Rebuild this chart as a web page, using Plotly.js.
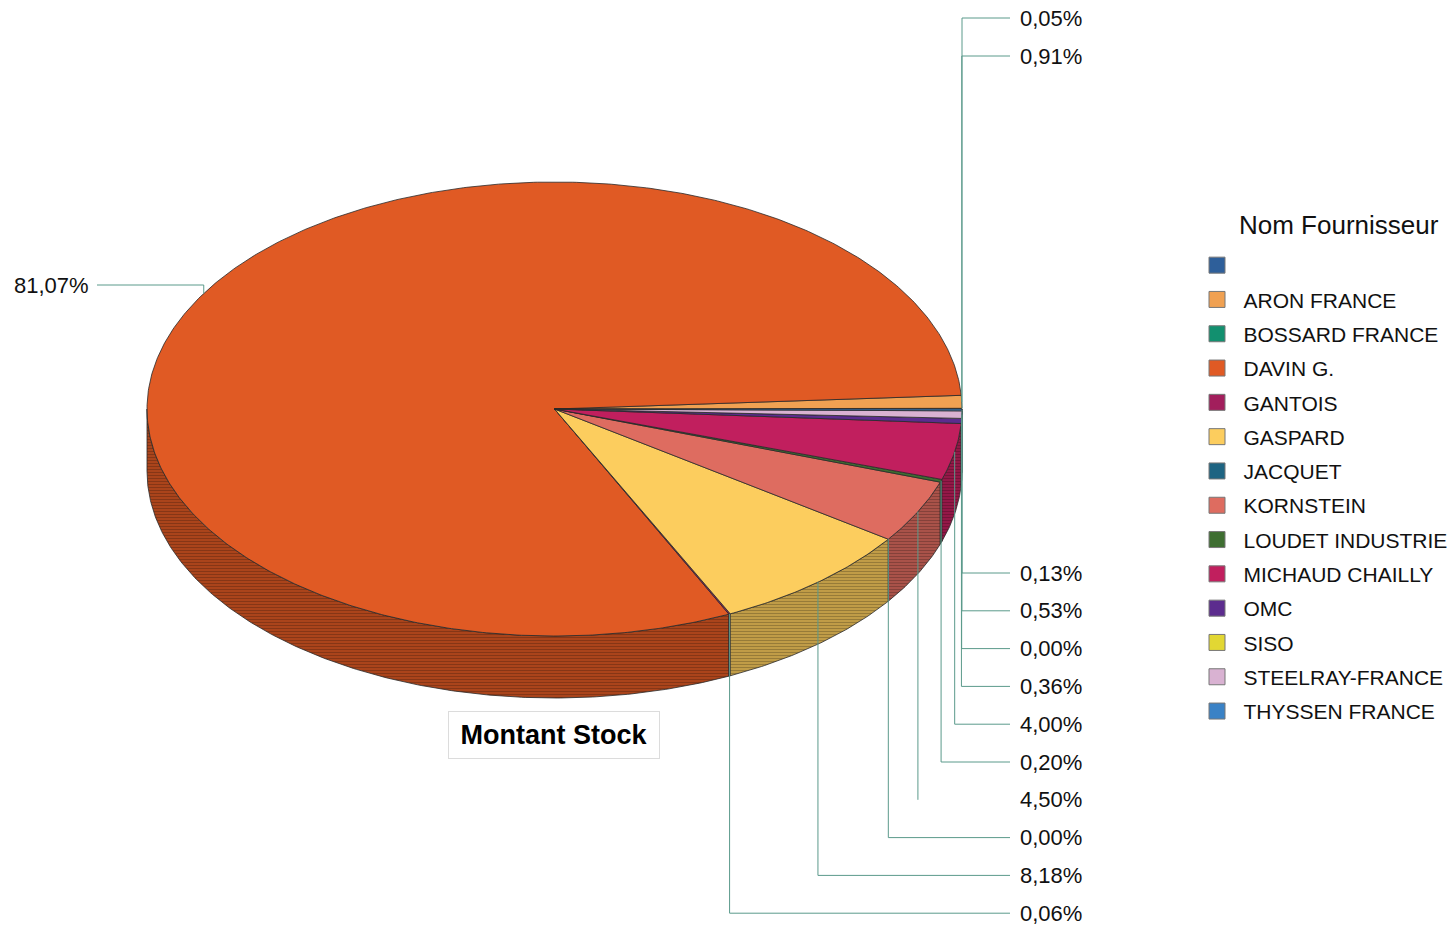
<!DOCTYPE html>
<html>
<head>
<meta charset="utf-8">
<script src="https://cdn.plot.ly/plotly-3.0.1.min.js"></script>
<style>html,body{margin:0;padding:0;background:#fff;}#chart{width:1455px;height:926px;}</style>
</head>
<body>
<div id="chart"></div>
<script>
// ---- data ----
const categories = ['', 'ARON FRANCE', 'BOSSARD FRANCE', 'DAVIN G.', 'GANTOIS', 'GASPARD', 'JACQUET', 'KORNSTEIN', 'LOUDET INDUSTRIE', 'MICHAUD CHAILLY', 'OMC', 'SISO', 'STEELRAY-FRANCE', 'THYSSEN FRANCE'];
const shares = [0.05, 0.91, null, 81.07, 0.06, 8.18, 0.00, 4.50, 0.20, 4.00, 0.36, 0.00, 0.53, 0.13];
const colors = ['#2E5F9A', '#F0A152', '#12906F', '#E05A24', '#A21E5C', '#FCCD5E', '#1E6482', '#DE6C60', '#3E6E31', '#C11F5E', '#5C2C8E', '#E2D733', '#D9B2D2', '#3A82C6'];
const chartTitle = 'Montant Stock';
const legendTitle = 'Nom Fournisseur';

// ---- geometry (layout) ----
const W = 1455, H = 926;
const cx = 554.5, cy = 409, rx = 407.5, ry = 227, depth = 62;
const deg = Math.PI / 180;
const lineColor = '#5b9a8b';
const edge = '#2a2a2a';
const FONT = 'Liberation Sans, Arial, sans-serif';

function rim(t, dz) { return [cx + rx * Math.cos(t * deg), cy + ry * Math.sin(t * deg) + (dz || 0)]; }
function shade(hex, f) {
  const n = parseInt(hex.slice(1), 16);
  const r = Math.round(((n >> 16) & 255) * f), g = Math.round(((n >> 8) & 255) * f), b = Math.round((n & 255) * f);
  return 'rgb(' + r + ',' + g + ',' + b + ')';
}
function fmt(v) { return v.toFixed(2).replace('.', ',') + '%'; }

const total = shares.reduce((s, v) => s + (v || 0), 0);
// slices go counter-clockwise on screen starting at 3 o'clock
const slices = [];
let acc = 0;
categories.forEach((c, i) => {
  const v = shares[i];
  if (v === null) return;
  const b = 360 - acc / total * 360;
  acc += v;
  const a = 360 - acc / total * 360;
  slices.push({ name: c, v: v, a: a, b: b, color: colors[i] });
});

const traces = [];
function arcPts(a, b, dz) {
  const n = Math.max(2, Math.ceil((b - a) / 0.5) + 1);
  const pts = [];
  for (let k = 0; k < n; k++) pts.push(rim(a + (b - a) * k / (n - 1), dz));
  return pts;
}
// side walls (front half only)
slices.forEach(s => {
  const a = Math.max(s.a, 0), b = Math.min(s.b, 180);
  if (b <= a) return;
  const top = arcPts(a, b, 0), bot = arcPts(a, b, depth).reverse();
  const pts = top.concat(bot); pts.push(top[0]);
  const side = shade(s.color, 0.76);
  traces.push({
    type: 'scatter', mode: 'lines', x: pts.map(p => p[0]), y: pts.map(p => p[1]),
    fill: 'toself', fillcolor: side,
    fillpattern: { shape: '-', bgcolor: side, fgcolor: shade(s.color, 0.6), size: 3, solidity: 0.35 },
    line: { color: edge, width: 0.8 }, hoverinfo: 'skip', showlegend: false
  });
});
// top faces
slices.forEach(s => {
  if (s.b - s.a <= 0) return;
  const pts = [[cx, cy]].concat(arcPts(s.a, s.b, 0)); pts.push([cx, cy]);
  traces.push({
    type: 'scatter', mode: 'lines', x: pts.map(p => p[0]), y: pts.map(p => p[1]),
    fill: 'toself', fillcolor: s.color, line: { color: edge, width: 0.8 },
    hoverinfo: 'skip', showlegend: false
  });
});

// leader lines + labels
const annotations = [];
const lx = [], ly = [];
const xLineEnd = 1010, xText = 1018;
const topGroup = slices.filter(s => (s.a + s.b) / 2 > 270).sort((p, q) => (q.a + q.b) - (p.a + p.b));
const botGroup = slices.filter(s => (s.a + s.b) / 2 < 90).sort((p, q) => (p.a + p.b) - (q.a + q.b));
const noConnector = ['KORNSTEIN'];
function addLabel(s, y, side) {
  const p = rim((s.a + s.b) / 2, 0);
  if (side === 'left') {
    lx.push(p[0], p[0], 97, null); ly.push(p[1], y, y, null);
    annotations.push({ x: 91, y: y, xref: 'x', yref: 'y', xanchor: 'right', yanchor: 'middle', text: fmt(s.v), showarrow: false, font: { family: FONT, size: 22, color: '#111' } });
  } else {
    if (noConnector.indexOf(s.name) >= 0) { lx.push(p[0], p[0], null); ly.push(p[1], y, null); }
    else { lx.push(p[0], p[0], xLineEnd, null); ly.push(p[1], y, y, null); }
    annotations.push({ x: xText, y: y, xref: 'x', yref: 'y', xanchor: 'left', yanchor: 'middle', text: fmt(s.v), showarrow: false, font: { family: FONT, size: 22, color: '#111' } });
  }
}
topGroup.forEach((s, k) => addLabel(s, 18 + k * 38, 'right'));
botGroup.forEach((s, k) => addLabel(s, 573 + k * 37.8, 'right'));
slices.filter(s => (s.b - s.a) > 180).forEach(s => addLabel(s, 285, 'left'));
traces.push({ type: 'scatter', mode: 'lines', x: lx, y: ly, line: { color: lineColor, width: 1 }, hoverinfo: 'skip', showlegend: false, connectgaps: false });

// legend entries
categories.forEach((c, i) => {
  traces.push({
    type: 'scatter', mode: 'markers', x: [null], y: [null], name: c === '' ? ' ' : c,
    legendgroup: 'g' + i,
    marker: { symbol: 'square', size: 16, color: colors[i], line: { color: '#777', width: 1 } }
  });
});

annotations.push({
  x: 554, y: 735, xref: 'x', yref: 'y', text: '<b>' + chartTitle + '</b>', showarrow: false,
  font: { family: FONT, size: 27, color: '#000' }, bordercolor: '#dcdcdc', borderwidth: 1, borderpad: 8,
  width: 194, height: 30, bgcolor: '#fff'
});
annotations.push({
  x: 1237, y: 225, xref: 'x', yref: 'y', xanchor: 'left', yanchor: 'middle', text: legendTitle, showarrow: false,
  font: { family: FONT, size: 26, color: '#111' }
});

const layout = {
  width: W, height: H, margin: { l: 0, r: 0, t: 0, b: 0, autoexpand: false },
  paper_bgcolor: '#fff', plot_bgcolor: '#fff',
  xaxis: { range: [0, W], visible: false, fixedrange: true },
  yaxis: { range: [H, 0], visible: false, fixedrange: true },
  showlegend: true,
  legend: {
    x: 1190.5 / W, xanchor: 'left', y: 1 - 245 / H, yanchor: 'top',
    traceorder: 'grouped', tracegroupgap: 4, itemwidth: 43,
    font: { family: FONT, size: 21, color: '#111' },
    bgcolor: 'rgba(0,0,0,0)'
  },
  annotations: annotations
};
Plotly.newPlot('chart', traces, layout, { staticPlot: true, displayModeBar: false });
</script>
</body>
</html>
